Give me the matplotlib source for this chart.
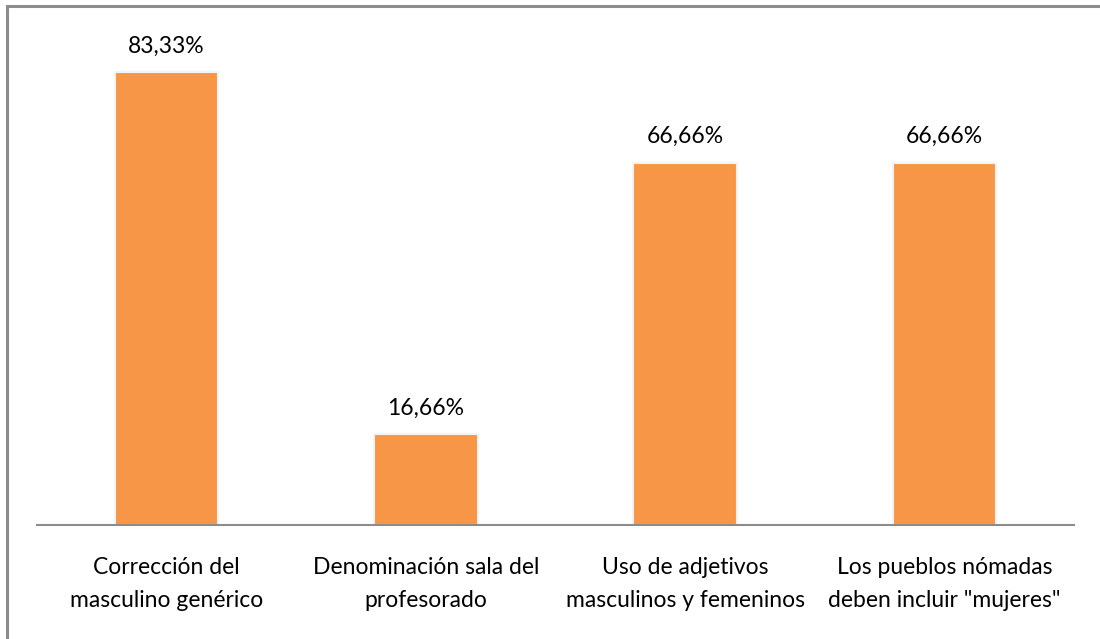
import matplotlib
matplotlib.use("Agg")
import matplotlib.pyplot as plt
from matplotlib.patches import Rectangle

# Datos
categorias = ["Corrección del\nmasculino genérico",
              "Denominación sala del\nprofesorado",
              "Uso de adjetivos\nmasculinos y femeninos",
              "Los pueblos nómadas\ndeben incluir \"mujeres\""]
valores = [83.33, 16.66, 66.66, 66.66]
etiquetas = ["83,33%", "16,66%", "66,66%", "66,66%"]

plt.rcParams['font.family'] = ['Lato', 'DejaVu Sans']

W, H = 1100, 639
fig = plt.figure(figsize=(W / 100, H / 100), dpi=100)

# Marco del gráfico
fig.patches.append(Rectangle((7 / W, -0.1), 1.2, 1 - 6 / H + 0.1, transform=fig.transFigure,
                             fill=False, edgecolor='#8c8c8c', linewidth=2.2))

# Ejes: baseline en y=525, 5.436 px por unidad
y0, ppu = 525, 5.436
ymax = 90
ax = fig.add_axes([37 / W, 1 - y0 / H, (1074 - 37) / W, ymax * ppu / H])

x = range(len(categorias))
ax.bar(x, valores, width=0.4, color='#F79646', edgecolor='#f3f3f3', linewidth=1.5)
ax.set_xlim(-0.5, len(categorias) - 0.5)
ax.set_ylim(0, ymax)

for xi, v, t in zip(x, valores, etiquetas):
    ax.text(xi, v + 4.8, t, ha='center', va='center', fontsize=16.5, color='black')

for s in ['top', 'right', 'left']:
    ax.spines[s].set_visible(False)
ax.spines['bottom'].set_color('#8c8c8c')
ax.spines['bottom'].set_linewidth(1.5)
ax.set_yticks([])
ax.set_xticks(list(x))
ax.set_xticklabels(categorias, fontsize=16.5, linespacing=1.7)
ax.tick_params(axis='x', length=0, pad=23)

fig.savefig("out.png", dpi=100)
